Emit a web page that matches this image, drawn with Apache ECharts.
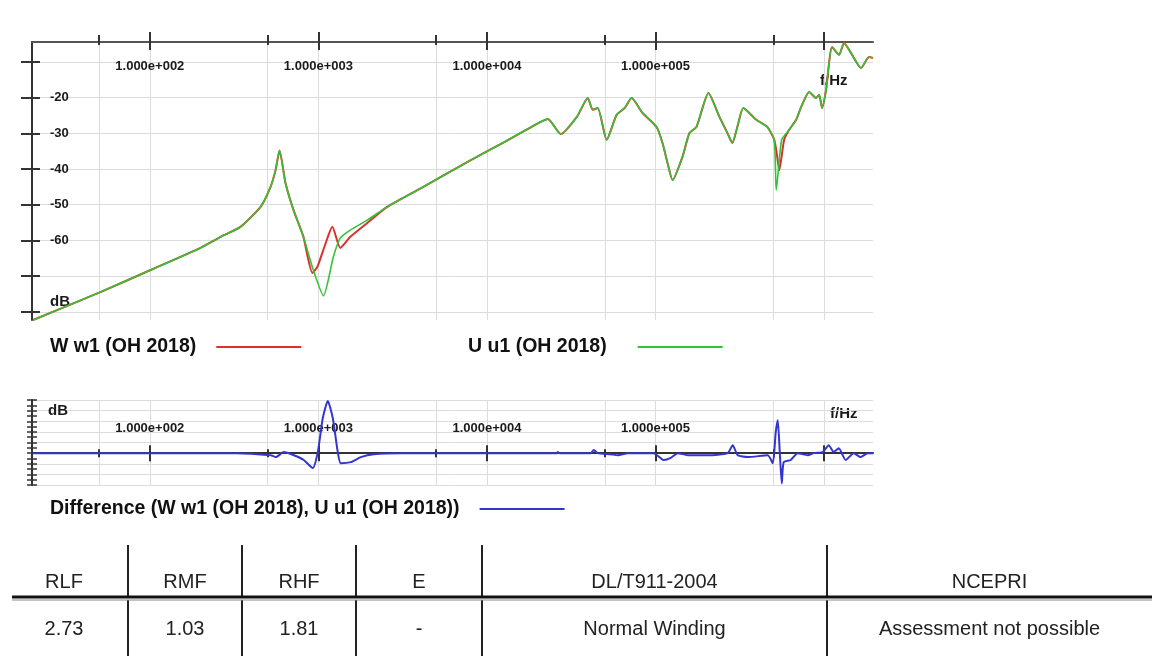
<!DOCTYPE html>
<html><head><meta charset="utf-8">
<script src="https://cdn.jsdelivr.net/npm/echarts@6/dist/echarts.min.js"></script>
<style>html,body{margin:0;padding:0;background:#fff}#c{width:1152px;height:656px}</style>
</head><body><div id="c"></div>
<script>
// ---------- data ----------
const F_MIN = 20, F_MAX = 1.95e6;
const decadeTicks = [100, 1000, 10000, 100000, 1000000];
const decadeLabels = [100, 1000, 10000, 100000];
const halfDecadeTicks = [50, 500, 5000, 50000, 500000];
const magTicks = [-80, -70, -60, -50, -40, -30, -20, -10];
const magLabels = [-80, -60, -50, -40, -30, -20];
const MAG_MIN = -82.3, MAG_MAX = -4.4;
const DIFF_MIN = -6, DIFF_MAX = 10;
const diffLabelValues = [8];

const nameW = 'W w1 (OH 2018)';
const nameU = 'U u1 (OH 2018)';
const nameDiff = 'Difference (W w1 (OH 2018), U u1 (OH 2018))';

const freqW = [20.3, 51.3, 101, 200, 263, 345, 454, 520, 557, 588, 638, 712, 815, 921, 986, 1100, 1210, 1349, 1546, 1950, 2560, 4045, 8020, 12590, 18200, 22960, 27420, 34120, 39640, 42400, 45400, 51300, 58800, 65600, 72100, 83800, 101400, 110000, 117800, 126200, 144500, 158900, 175000, 206000, 239400, 266900, 285700, 305700, 331900, 396200, 460300, 506000, 525000, 541900, 579400, 620600, 682400, 731100, 815000, 897000, 933600, 973000, 1027000, 1115000, 1227000, 1313000, 1445000, 1656000, 1846000, 1950000];
const magW = [-82.3, -74.4, -68.3, -62.1, -59.0, -56.2, -50.6, -45.0, -40.3, -34.8, -43.9, -51.5, -59.0, -69.1, -67.4, -61.0, -56.2, -62.1, -59.0, -55.1, -50.6, -45.4, -37.5, -32.5, -28.3, -26.0, -30.2, -25.4, -20.1, -23.4, -22.9, -31.8, -24.8, -22.9, -20.1, -24.3, -28.2, -32.7, -38.3, -43.1, -36.6, -29.9, -28.2, -18.7, -25.4, -29.9, -32.7, -28.2, -22.9, -26.2, -28.2, -31.8, -36.0, -40.3, -31.8, -29.0, -26.2, -22.6, -18.4, -20.1, -19.2, -22.9, -17.8, -5.8, -8.0, -4.7, -7.5, -11.7, -8.6, -8.9];

const freqU = [20.3, 51.3, 101, 200, 263, 345, 454, 520, 557, 588, 638, 712, 815, 921, 1072, 1227, 1349, 1546, 1950, 2560, 4045, 8020, 12590, 18200, 22960, 27420, 34120, 39640, 42400, 45400, 51300, 58800, 65600, 72100, 83800, 101400, 110000, 117800, 126200, 144500, 158900, 175000, 206000, 239400, 266900, 285700, 305700, 331900, 396200, 460300, 506000, 520000, 560000, 620600, 682400, 731100, 815000, 897000, 933600, 973000, 1027000, 1115000, 1227000, 1313000, 1445000, 1656000, 1846000, 1950000];
const magU = [-82.3, -74.4, -68.3, -62.1, -59.0, -56.2, -50.6, -45.0, -40.3, -34.8, -43.9, -51.5, -59.0, -67.5, -75.5, -64.6, -59.3, -57.1, -54.3, -50.6, -45.4, -37.5, -32.5, -28.3, -26.0, -30.2, -25.4, -20.1, -23.4, -22.9, -31.8, -24.8, -22.9, -20.1, -24.3, -28.2, -32.7, -38.3, -43.1, -36.6, -29.9, -28.2, -18.7, -25.4, -29.9, -32.7, -28.2, -22.9, -26.2, -28.2, -31.8, -45.9, -31.8, -29.0, -26.2, -22.6, -18.4, -20.1, -19.2, -22.9, -17.8, -5.8, -8.0, -4.7, -7.5, -11.7, -8.6, -8.9];

const freqDiff = [20.2, 323, 522, 559, 623, 715, 819, 926, 992, 1062, 1137, 1217, 1303, 1358, 1557, 1784, 2131, 3083, 26000, 26300, 27000, 41300, 43000, 45400, 54200, 59700, 68400, 97500, 111900, 123000, 135500, 155300, 204000, 268000, 287000, 307400, 352300, 463000, 495800, 516700, 530900, 545700, 560900, 576000, 633500, 697000, 800000, 867000, 981000, 1065000, 1140000, 1221000, 1343000, 1499000, 1648000, 1812000, 1950000];
const diffDb = [0, 0, -0.4, -0.75, 0.2, -0.4, -1.3, -2.8, 0.2, 6.6, 9.8, 6.6, 0.2, -1.9, -1.7, -0.75, -0.2, 0, 0, 0.2, 0, 0, 0.6, 0, -0.2, -0.4, 0, 0, -1.3, -0.9, 0, -0.4, -0.4, 0, 1.5, -0.4, -0.75, -0.4, -1.9, 4.0, 6.2, 0.2, -5.7, -1.7, -1.3, 0, -0.4, 0, 0.2, 1.5, 0.2, 0.9, -1.3, 0, -0.75, 0, 0];

const tableHeaders = ['RLF', 'RMF', 'RHF', 'E', 'DL/T911-2004', 'NCEPRI'];
const tableValues = ['2.73', '1.03', '1.81', '-', 'Normal Winding', 'Assessment not possible'];

// ---------- build ----------
const lg = Math.log10;
const pts = (fs, vs) => fs.map((f, i) => [lg(f), vs[i]]);
const X_MIN = lg(F_MIN), X_MAX = lg(F_MAX);
const decLog = decadeTicks.map(lg), halfLog = halfDecadeTicks.map(lg), decLabLog = decadeLabels.map(lg);
const FONT = '"Liberation Sans", Arial, sans-serif';
const gridLine = { show: true, lineStyle: { color: '#dcdcdc', width: 1 } };
const fmtX = v => '1.000e+' + String(Math.round(v)).padStart(3, '0');

function xAx(grid, pos, vals, len, inside, extra) {
  return Object.assign({
    type: 'value', gridIndex: grid, position: pos, min: X_MIN, max: X_MAX,
    axisLine: { show: true, onZero: pos === 'bottom', onZeroAxisIndex: 2, lineStyle: { color: '#555', width: 2, opacity: 0 } },
    axisTick: { show: true, inside: inside, length: len, customValues: vals, lineStyle: { color: '#333', width: 2 } },
    axisLabel: { show: false }, splitLine: { show: false }
  }, extra || {});
}
const labelStyle = { fontFamily: FONT, fontWeight: 'bold', fontSize: 13, color: '#1a1a1a' };

const xAxes = [
  xAx(0, 'top', decLog, 10, false, {
    axisLine: { show: true, onZero: false, lineStyle: { color: '#555', width: 2 } },
    axisLabel: Object.assign({ show: true, inside: true, margin: 18, customValues: decLabLog, formatter: fmtX }, labelStyle),
    splitLine: gridLine }),
  xAx(0, 'top', decLog, 8, true),
  xAx(0, 'top', halfLog, 7, false, { splitLine: gridLine }),
  xAx(0, 'top', halfLog, 3, true),
  xAx(1, 'bottom', decLog, 8, false, {
    axisLine: { show: true, onZero: true, onZeroAxisIndex: 2, lineStyle: { color: '#333', width: 2 } },
    axisLabel: Object.assign({ show: true, inside: true, margin: 50, customValues: decLabLog, formatter: fmtX }, labelStyle),
    splitLine: gridLine }),
  xAx(1, 'bottom', decLog, 8, true),
  xAx(1, 'bottom', halfLog, 4, false, { splitLine: gridLine }),
  xAx(1, 'bottom', halfLog, 4, true)
];

const yAxes = [
  { type: 'value', gridIndex: 0, position: 'left', min: MAG_MIN, max: MAG_MAX,
    axisLine: { show: true, lineStyle: { color: '#333', width: 2 } },
    axisTick: { show: true, length: 11, customValues: magTicks, lineStyle: { color: '#333', width: 2 } },
    axisLabel: Object.assign({ show: true, inside: true, margin: 18, customValues: magLabels,
      formatter: v => v === -80 ? '{d|dB}' : String(v),
      rich: { d: { fontFamily: FONT, fontWeight: 'bold', fontSize: 15, color: '#1a1a1a', padding: [0, 0, 20, 0] } } }, labelStyle),
    splitLine: gridLine },
  { type: 'value', gridIndex: 0, position: 'left', min: MAG_MIN, max: MAG_MAX,
    axisLine: { show: false }, axisTick: { show: true, inside: true, length: 8, customValues: magTicks, lineStyle: { color: '#333', width: 2 } },
    axisLabel: { show: false }, splitLine: { show: false } },
  { type: 'value', gridIndex: 1, position: 'left', min: DIFF_MIN, max: DIFF_MAX, interval: 1,
    axisLine: { show: true, lineStyle: { color: '#333', width: 2 } },
    axisTick: { show: true, length: 5, lineStyle: { color: '#333', width: 1.5 } },
    axisLabel: { show: true, inside: true, margin: 16, customValues: diffLabelValues, formatter: () => 'dB',
      fontFamily: FONT, fontWeight: 'bold', fontSize: 15, color: '#1a1a1a' },
    splitLine: { show: false } },
  { type: 'value', gridIndex: 1, position: 'left', min: DIFF_MIN, max: DIFF_MAX, interval: 1,
    axisLine: { show: false }, axisTick: { show: true, inside: true, length: 5, lineStyle: { color: '#333', width: 1.5 } },
    axisLabel: { show: false }, splitLine: { show: false } },
  { type: 'value', gridIndex: 1, position: 'left', min: DIFF_MIN, max: DIFF_MAX, interval: 2,
    axisLine: { show: false }, axisTick: { show: false }, axisLabel: { show: false }, splitLine: gridLine }
];

function legend(name, left, top, gap) {
  return { data: [name], left: left, top: top, align: 'right', icon: 'rect', itemWidth: 85, itemHeight: 2,
    selectedMode: false, padding: 0,
    textStyle: { fontFamily: FONT, fontWeight: 'bold', fontSize: 19.5, color: '#111', padding: [0, gap, 0, 0] } };
}

// table graphics
const colEdges = [0, 128, 242, 356, 482, 827, 1152];
const tableG = [];
const tFont = '20px ' + FONT;
tableHeaders.forEach((h, i) => {
  const cx = (colEdges[i] + colEdges[i + 1]) / 2;
  tableG.push({ type: 'text', x: cx, y: 582, style: { text: h, font: tFont, fill: '#222', align: 'center', verticalAlign: 'middle' } });
  tableG.push({ type: 'text', x: cx, y: 629, style: { text: tableValues[i], font: tFont, fill: '#222', align: 'center', verticalAlign: 'middle' } });
});
colEdges.slice(1, -1).forEach(x => {
  tableG.push({ type: 'line', shape: { x1: x, y1: 545, x2: x, y2: 596 }, style: { stroke: '#222', lineWidth: 2 } });
  tableG.push({ type: 'line', shape: { x1: x, y1: 600, x2: x, y2: 656 }, style: { stroke: '#222', lineWidth: 2 } });
});
tableG.push({ type: 'line', shape: { x1: 12, y1: 597, x2: 1152, y2: 597 }, style: { stroke: '#111', lineWidth: 3 } });
tableG.push({ type: 'line', shape: { x1: 12, y1: 600, x2: 1152, y2: 600 }, style: { stroke: '#888', lineWidth: 1 } });
// axis unit names
tableG.push({ type: 'text', x: 820, y: 73, style: { text: 'f/Hz', font: 'bold 15px ' + FONT, fill: '#1a1a1a' } });
tableG.push({ type: 'text', x: 830, y: 406, style: { text: 'f/Hz', font: 'bold 15px ' + FONT, fill: '#1a1a1a' } });

const chart = echarts.init(document.getElementById('c'), null, { renderer: 'canvas' });
chart.setOption({
  animation: false,
  backgroundColor: '#fff',
  grid: [
    { left: 32, right: 279, top: 42, bottom: 336 },
    { left: 32, right: 279, top: 400, bottom: 171 }
  ],
  xAxis: xAxes,
  yAxis: yAxes,
  legend: [legend(nameW, 50, 337, 15), legend(nameU, 468, 337, 26), legend(nameDiff, 50, 499, 15)],
  graphic: tableG,
  series: [
    { name: nameW, type: 'line', xAxisIndex: 0, yAxisIndex: 0, data: pts(freqW, magW), symbol: 'none',
      smooth: 0.2, lineStyle: { color: '#d8322c', width: 2 }, itemStyle: { color: '#d8322c' } },
    { name: nameU, type: 'line', xAxisIndex: 0, yAxisIndex: 0, data: pts(freqU, magU), symbol: 'none',
      smooth: 0.2, lineStyle: { color: '#36c236', width: 1.6 }, itemStyle: { color: '#36c236' } },
    { name: nameDiff, type: 'line', xAxisIndex: 4, yAxisIndex: 2, data: pts(freqDiff, diffDb), symbol: 'none',
      smooth: 0.2, lineStyle: { color: '#3434d0', width: 2 }, itemStyle: { color: '#3434d0' } }
  ]
});
</script></body></html>
